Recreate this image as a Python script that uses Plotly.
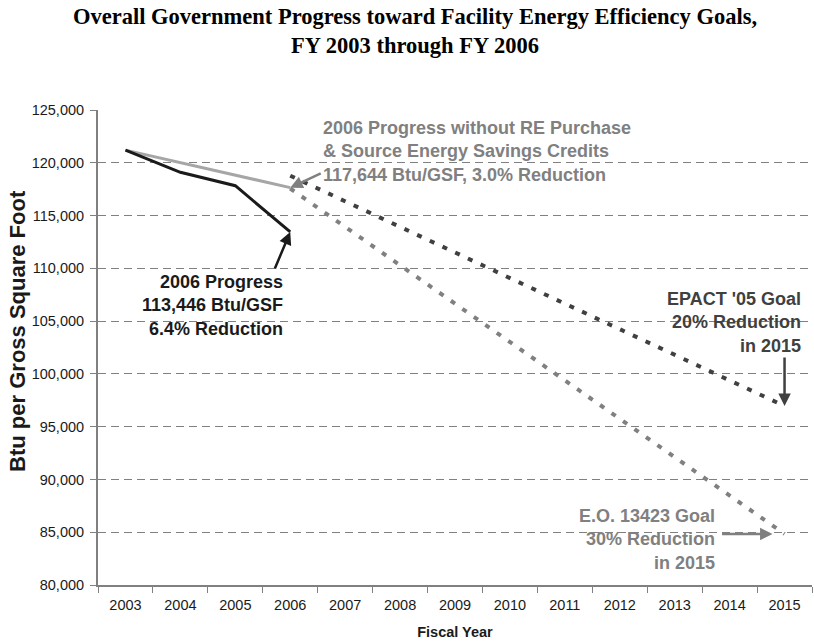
import plotly.graph_objects as go

years = list(range(2003, 2016))

progress_years = [2003, 2004, 2005, 2006]
progress_btu = [121200, 119100, 117830, 113446]

no_credit_years = [2003, 2006]
no_credit_btu = [121200, 117644]

goal_years = [2006, 2015]
epact_goal = [118776, 96960]
eo_goal = [117564, 84840]

y_ticks = list(range(80000, 125001, 5000))

FONT = "Liberation Sans, Arial, sans-serif"
DARK = "#1a1a1a"
MID = "#404040"
GREY = "#808080"
LIGHT = "#a6a6a6"

fig = go.Figure()
fig.add_trace(go.Scatter(x=goal_years, y=epact_goal, mode="lines",
                         line=dict(color=MID, width=4, dash="5px,9px")))
fig.add_trace(go.Scatter(x=goal_years, y=eo_goal, mode="lines",
                         line=dict(color=GREY, width=4, dash="5px,9px")))
fig.add_trace(go.Scatter(x=no_credit_years, y=no_credit_btu, mode="lines",
                         line=dict(color=LIGHT, width=3)))
fig.add_trace(go.Scatter(x=progress_years, y=progress_btu, mode="lines",
                         line=dict(color=DARK, width=3)))


def note(text, x, y, xanchor, align, color):
    fig.add_annotation(text=text, xref="paper", yref="paper", x=x, y=y,
                       xanchor=xanchor, yanchor="middle", align=align, showarrow=False,
                       font=dict(family=FONT, size=18, color=color))


def arrow(x, y, ax, ay, color, xshift=0):
    fig.add_annotation(x=x, y=y, ax=ax, ay=ay, text="", showarrow=True,
                       arrowhead=2, arrowsize=1, arrowwidth=2.5, arrowcolor=color,
                       xshift=xshift)


note("<b>2006 Progress without RE Purchase<br>&amp; Source Energy Savings Credits<br>"
     "117,644 Btu/GSF, 3.0% Reduction</b>", 0.312, 0.912, "left", "left", GREY)
note("<b>2006 Progress<br>113,446 Btu/GSF<br>6.4% Reduction</b>",
     0.262, 0.588, "right", "right", DARK)
note("<b>EPACT '05 Goal<br>20% Reduction<br>in 2015</b>",
     0.988, 0.552, "right", "right", MID)
note("<b>E.O. 13423 Goal<br>30% Reduction<br>in 2015</b>",
     0.867, 0.095, "right", "right", GREY)

arrow(2006, no_credit_btu[1], 32, -15, GREY)
arrow(2006, progress_btu[3], -16, 38, DARK)
arrow(2015, epact_goal[1], 0, -50, MID)
arrow(2015, eo_goal[1], -52, 0, GREY, xshift=-12)

fig.add_annotation(text="<b>Overall Government Progress toward Facility Energy Efficiency Goals,<br>"
                        "FY 2003 through FY 2006</b>",
                   xref="paper", yref="paper", x=0.444, y=1.166, xanchor="center", yanchor="middle",
                   showarrow=False,
                   font=dict(family="Liberation Serif, Times New Roman, serif", size=22.5, color="black"))

# y title as an annotation: it sits a bit above the middle of the axis
fig.add_annotation(text="<b>Btu per Gross Square Foot</b>", textangle=-90,
                   xref="paper", yref="paper", x=-0.112, y=0.535, xanchor="center", yanchor="middle",
                   showarrow=False, font=dict(family=FONT, size=22, color=DARK))

fig.update_layout(
    width=814, height=643,
    margin=dict(l=98, r=2, t=110, b=58),
    paper_bgcolor="white", plot_bgcolor="white",
    showlegend=False,
    font=dict(family=FONT, size=14.5, color=DARK),
)
fig.update_xaxes(range=[2002.5, 2015.5], tickvals=years, ticks="", ticklabelstandoff=6,
                 minor=dict(tick0=2002.5, dtick=1, ticks="outside", ticklen=6,
                            tickcolor=GREY, showgrid=False),
                 showline=True, linecolor=GREY, linewidth=2, showgrid=False, zeroline=False,
                 automargin=False, tickfont=dict(size=14.5, color=DARK),
                 title=dict(text="<b>Fiscal Year</b>", font=dict(size=14.5, color=DARK), standoff=14))
fig.update_yaxes(range=[80000, 125000], tickvals=y_ticks, tickformat=",d",
                 ticks="outside", ticklen=6, tickcolor=GREY, ticklabelstandoff=3,
                 showline=True, linecolor=GREY, linewidth=2,
                 showgrid=True, gridcolor=GREY, gridwidth=1.2, griddash="8px,5px",
                 zeroline=False, automargin=False, tickfont=dict(size=14.5, color=DARK))

fig.write_html("out.html", config={"displayModeBar": False},
               post_script="document.body.style.margin = '0';")
